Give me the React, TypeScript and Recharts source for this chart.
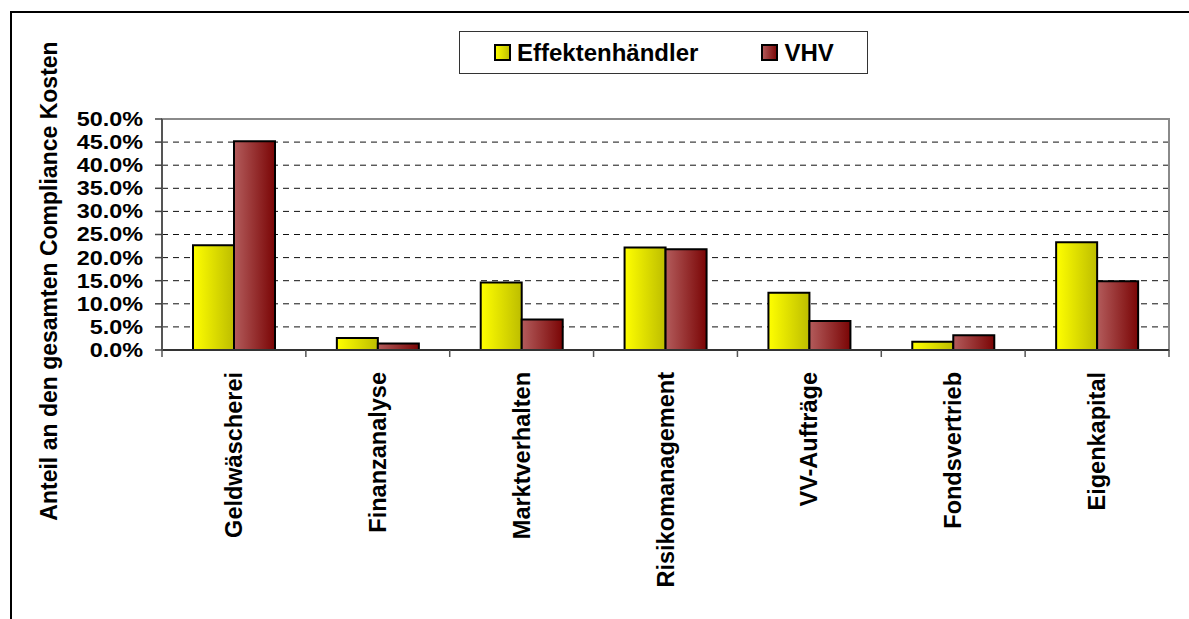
import React from "react";
import { BarChart, Bar, XAxis, YAxis, CartesianGrid, ReferenceArea } from "recharts";

// Anteil an den gesamten Compliance Kosten (in %)
const categories = [
  "Geldwäscherei",
  "Finanzanalyse",
  "Marktverhalten",
  "Risikomanagement",
  "VV-Aufträge",
  "Fondsvertrieb",
  "Eigenkapital",
];
const effektenhaendler = [22.7, 2.6, 14.6, 22.2, 12.4, 1.8, 23.3];
const vhv = [45.2, 1.4, 6.6, 21.8, 6.3, 3.2, 14.9];
const yTicks = [0, 5, 10, 15, 20, 25, 30, 35, 40, 45, 50];

const seriesNames = ["Effektenhändler", "VHV"];
const gradIds = ["gradYellow", "gradRed"];

const data = categories.map((name, i) => ({
  name,
  eff: effektenhaendler[i],
  vhv: vhv[i],
}));

const W = 1189;
const H = 619;
const PLOT_LEFT = 162;
const PLOT_RIGHT = 1169;
const PLOT_TOP = 119;
const PLOT_BOTTOM = 350;
const BAND = (PLOT_RIGHT - PLOT_LEFT) / categories.length;
const FONT = "'Liberation Sans', Arial, sans-serif";

const XTick = (props: any) => {
  const { x, y, payload, index } = props;
  const isLast = index === categories.length - 1;
  return (
    <g>
      <line x1={x - BAND / 2} y1={y} x2={x - BAND / 2} y2={y + 7} stroke="#555" strokeWidth={1.5} />
      {isLast && (
        <line x1={x + BAND / 2} y1={y} x2={x + BAND / 2} y2={y + 7} stroke="#555" strokeWidth={1.5} />
      )}
      <text
        x={x + 8}
        y={y + 22}
        transform={`rotate(-90, ${x + 8}, ${y + 22})`}
        textAnchor="end"
        fontFamily={FONT}
        fontWeight={700}
        fontSize={23.5}
        fill="#000"
      >
        {payload.value}
      </text>
    </g>
  );
};

// tick labels in the original are slightly stretched horizontally
const YTick = (props: any) => {
  const { x, y, payload } = props;
  return (
    <text
      transform={`translate(${x}, ${y}) scale(1.2, 1)`}
      textAnchor="end"
      dy="0.355em"
      fontFamily={FONT}
      fontWeight={700}
      fontSize={19.5}
      fill="#000"
    >
      {`${payload.value.toFixed(1)}%`}
    </text>
  );
};

const YTitle = () => (
  <text
    x={57}
    y={281}
    transform="rotate(-90, 57, 281)"
    textAnchor="middle"
    fontFamily={FONT}
    fontWeight={700}
    fontSize={23}
    fill="#000"
  >
    Anteil an den gesamten Compliance Kosten
  </text>
);

const LegendIcon = ({ i }: { i: number }) => (
  <svg width={17} height={17} style={{ display: "block" }}>
    <defs>
      <linearGradient id={`leg${i}`} x1="0" y1="0" x2="1" y2="0">
        {i === 0 ? (
          <>
            <stop offset="0%" stopColor="#FFFF00" />
            <stop offset="100%" stopColor="#BDBD00" />
          </>
        ) : (
          <>
            <stop offset="0%" stopColor="#B35C5C" />
            <stop offset="100%" stopColor="#7A0505" />
          </>
        )}
      </linearGradient>
    </defs>
    <rect x={1} y={1} width={15} height={15} fill={`url(#leg${i})`} stroke="#000" strokeWidth={2} />
  </svg>
);

export default function App() {
  return (
    <div style={{ position: "absolute", left: 0, top: 0, width: W, height: H, background: "#fff" }}>
      {/* outer frame (top and left edges only) */}
      <div
        style={{
          position: "absolute",
          left: 10,
          top: 11,
          width: W - 10,
          height: H - 11,
          borderTop: "2px solid #000",
          borderLeft: "2px solid #000",
          boxSizing: "border-box",
        }}
      />
      <BarChart
        width={W}
        height={H}
        data={data}
        margin={{ top: PLOT_TOP, right: W - PLOT_RIGHT, bottom: 0, left: 0 }}
        barCategoryGap={31}
        barGap={0}
        style={{ position: "absolute", left: 0, top: 0 }}
      >
        <defs>
          <linearGradient id="gradYellow" x1="0" y1="0" x2="1" y2="0">
            <stop offset="0%" stopColor="#FFFF00" />
            <stop offset="100%" stopColor="#BDBD00" />
          </linearGradient>
          <linearGradient id="gradRed" x1="0" y1="0" x2="1" y2="0">
            <stop offset="0%" stopColor="#B35C5C" />
            <stop offset="100%" stopColor="#7A0505" />
          </linearGradient>
        </defs>
        <CartesianGrid vertical={false} stroke="#111" strokeDasharray="6 5" strokeWidth={1} />
        <ReferenceArea y1={0} y2={50} fill="none" stroke="#8a8a8a" strokeWidth={2} ifOverflow="visible" />
        <XAxis
          dataKey="name"
          height={H - PLOT_BOTTOM}
          interval={0}
          tickLine={false}
          tickSize={0}
          tickMargin={0}
          axisLine={{ stroke: "#333", strokeWidth: 2 }}
          tick={<XTick />}
        />
        <YAxis
          domain={[0, 50]}
          ticks={yTicks}
          width={PLOT_LEFT}
          tickSize={7}
          tickMargin={12}
          tickLine={{ stroke: "#444", strokeWidth: 1.5 }}
          axisLine={{ stroke: "#555", strokeWidth: 2 }}
          tick={<YTick />}
          interval={0}
        />
        <Bar dataKey="eff" name={seriesNames[0]} fill={`url(#${gradIds[0]})`} stroke="#000" strokeWidth={2} isAnimationActive={false} />
        <Bar dataKey="vhv" name={seriesNames[1]} fill={`url(#${gradIds[1]})`} stroke="#000" strokeWidth={2} isAnimationActive={false} />
        <YTitle />
      </BarChart>
      {/* legend */}
      <div
        style={{
          position: "absolute",
          left: 459,
          top: 31,
          width: 409,
          height: 43,
          border: "1.5px solid #333",
          boxSizing: "border-box",
          display: "flex",
          alignItems: "center",
          paddingLeft: 34,
          fontFamily: FONT,
          fontWeight: 700,
          fontSize: 24,
          color: "#000",
        }}
      >
        {seriesNames.map((n, i) => (
          <div key={n} style={{ display: "flex", alignItems: "center", marginLeft: i === 0 ? 0 : 63 }}>
            <LegendIcon i={i} />
            <span style={{ marginLeft: 6, lineHeight: "24px" }}>{n}</span>
          </div>
        ))}
      </div>
    </div>
  );
}
